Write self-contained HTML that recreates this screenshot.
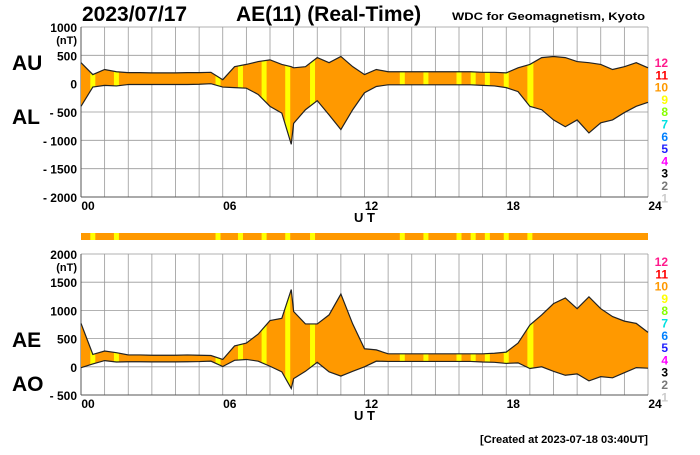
<!DOCTYPE html>
<html><head><meta charset="utf-8"><style>
body{margin:0;background:#fff;width:700px;height:450px;overflow:hidden;font-family:"Liberation Sans",sans-serif}
svg text{font-family:"Liberation Sans",sans-serif;font-weight:bold}
</style></head><body>
<svg id="c" width="700" height="450">
<text x="82" y="21" font-size="21">2023/07/17</text>
<text x="236" y="21" font-size="21">AE(11) (Real-Time)</text>
<text x="452" y="20" font-size="11" textLength="193" lengthAdjust="spacingAndGlyphs">WDC for Geomagnetism, Kyoto</text>
<text x="12" y="70" font-size="21">AU</text>
<text x="12" y="124" font-size="21">AL</text>
<text x="12" y="347" font-size="21">AE</text>
<text x="12" y="391" font-size="21">AO</text>
<text x="480" y="443" font-size="11" textLength="168" lengthAdjust="spacingAndGlyphs">[Created at 2023-07-18 03:40UT]</text>
</svg>
<script>
const hours=[0,0.5,1,1.5,2,2.5,3,3.5,4,4.5,5,5.5,6,6.5,7,7.5,8,8.5,8.9,9,9.5,10,10.5,11,11.5,12,12.5,13,13.5,14,14.5,15,15.5,16,16.5,17,17.5,18,18.5,19,19.5,20,20.5,21,21.5,22,22.5,23,23.5,24];
const au=[370,160,250,210,195,195,190,190,190,195,195,200,70,300,340,390,420,340,300,280,300,460,370,480,300,160,250,210,210,210,210,210,210,210,210,200,200,190,280,340,460,480,460,390,370,340,250,300,370,280];
const al=[-400,-60,-30,-40,-15,-15,-15,-15,-15,-15,-10,0,-60,-70,-80,-190,-400,-520,-1070,-700,-460,-300,-550,-810,-460,-160,-50,-20,-20,-20,-20,-20,-20,-20,-20,-30,-40,-70,-140,-400,-460,-640,-760,-640,-870,-690,-640,-510,-400,-330];
const yellowHours=[0.5,1.5,5.8,6.75,7.75,8.75,9.8,13.6,14.6,16.0,16.6,17.2,18.0,19.0];
const topTicks=[1000,500,0,-500,-1000,-1500,-2000];
const botTicks=[2000,1500,1000,500,0,-500];
const hourLabels=["00","06","12","18","24"];
const legNums=["12","11","10","9","8","7","6","5","4","3","2","1"];
const legCols=["#ff1a8c","#ff0000","#ff9900","#ffff00","#88ff00","#00e0e0","#0080ff","#2020ff","#ff00ff","#000","#777","#ccc"];
const ae=au.map((v,i)=>v-al[i]);
const ao=au.map((v,i)=>(v+al[i])/2);

const NS="http://www.w3.org/2000/svg",svg=document.getElementById('c');
function mk(t,a,p){const e=document.createElementNS(NS,t);for(const k in a)e.setAttribute(k,a[k]);(p||svg).appendChild(e);return e;}
const X0=81,X1=648,xs=h=>X0+h*(X1-X0)/24;

function panel(id,yTop,yBot,vMax,vMin,up,lo,ticks,legY){
  const ys=v=>yTop+(vMax-v)*(yBot-yTop)/(vMax-vMin);
  const g=mk('g',{});
  
  
  for(let h=0;h<=24;h++){mk('line',{x1:xs(h),x2:xs(h),y1:yTop,y2:yBot,stroke:'#999','stroke-width':0.8},g);}
  ticks.forEach(v=>{mk('line',{x1:X0,x2:X1,y1:ys(v),y2:ys(v),stroke:'#999','stroke-width':0.8},g);
    const t=mk('text',{x:77,y:ys(v)+5,'font-size':12,'text-anchor':'end'},g);t.textContent=(v<0?'- '+(-v):v);
    });
  const u=mk('text',{x:77,y:ys(ticks[0])+17,'font-size':11,'text-anchor':'end'},g);u.textContent='(nT)';
  mk('line',{x1:X0,x2:X0,y1:yTop,y2:yBot,stroke:'#555'},g);
  mk('line',{x1:X0,x2:X1,y1:yBot,y2:yBot,stroke:'#555'},g);
  let pts=hours.map((h,i)=>xs(h)+','+ys(up[i]));
  let pts2=hours.map((h,i)=>xs(h)+','+ys(lo[i])).reverse();
  const cp=mk('clipPath',{id:'cp'+id},g);
  mk('polygon',{points:pts.concat(pts2).join(' ')},cp);
  const area=mk('polygon',{points:pts.concat(pts2).join(' '),fill:'#ff9900'},g);
  
  
  yellowHours.forEach(h=>{const r=mk('rect',{x:xs(h)-2.5,y:yTop,width:(h==19?6:5),height:yBot-yTop,fill:'#ffff00','clip-path':'url(#cp'+id+')'},g);
    });
  const l1=mk('polyline',{points:pts.join(' '),fill:'none',stroke:'#222','stroke-width':1.2},g);
  
  const l2=mk('polyline',{points:pts2.join(' '),fill:'none',stroke:'#222','stroke-width':1.2},g);
  
  hourLabels.forEach((s,i)=>{const t=mk('text',{x:xs(i*6)+7,y:yBot+13,'font-size':12,'text-anchor':'middle'},g);t.textContent=s;
    });
  const ut=mk('text',{x:xs(12),y:yBot+25,'font-size':13,'text-anchor':'middle'},g);ut.textContent='U T';
  
  legNums.forEach((s,i)=>{const t=mk('text',{x:668,y:legY+i*12.3,'font-size':12,'text-anchor':'end',fill:legCols[i]},g);t.textContent=s;
    });
}
panel('au-al',27,197,1000,-2000,au,al,topTicks,67);
const sb=mk('rect',{x:X0,y:233,width:X1-X0,height:7,fill:'#ff9900'});


yellowHours.forEach(h=>{const r=mk('rect',{x:xs(h)-2.5,y:233,width:5,height:7,fill:'#ffff00'});
  });
panel('ae-ao',254,395,2000,-500,ae,ao,botTicks,266);
</script>
</body></html>
